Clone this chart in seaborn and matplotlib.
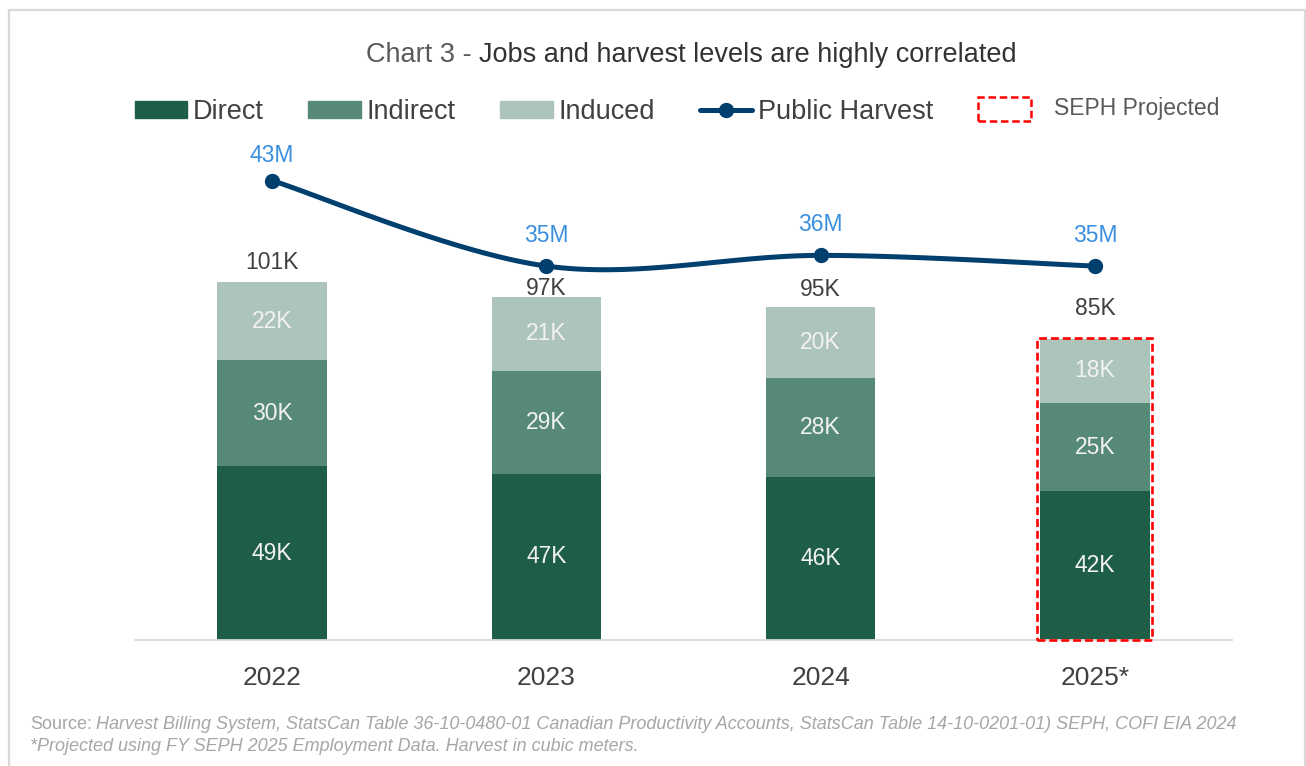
import numpy as np
import pandas as pd
import matplotlib
matplotlib.use("Agg")
import matplotlib.pyplot as plt
import matplotlib.patches as mpatches
from matplotlib.lines import Line2D
from matplotlib.legend_handler import HandlerPatch
import seaborn as sns

# ---- data -------------------------------------------------------------
years = ["2022", "2023", "2024", "2025*"]
direct = [49, 47, 46, 42]          # thousands of jobs
indirect = [30, 29, 28, 25]
induced = [22, 21, 20, 18]
total_jobs = [101, 97, 95, 85]     # reported totals
harvest = [43, 35, 36, 35]         # public harvest, million m3

# ---- styling ----------------------------------------------------------
sns.set_theme(style="white")
plt.rcParams["font.family"] = ["Liberation Sans", "DejaVu Sans"]

C_DIRECT = "#1e5e47"
C_INDIRECT = "#578a76"
C_INDUCED = "#adc4bb"
C_LINE = "#003f6e"
C_HARV_LBL = "#3a8fde"
C_TEXT = "#404040"
C_GRID = "#d9d9d9"

W, H, DPI = 1306, 766, 100
fig = plt.figure(figsize=(W / DPI, H / DPI), dpi=DPI)
fig.patch.set_facecolor("white")

# outer frame
fig.patches.append(mpatches.Rectangle((8.5 / W, -0.05), (1305 - 8.5) / W, 1.05 - 9.5 / H,
                                      transform=fig.transFigure, fill=False,
                                      ec=C_GRID, lw=1.6))

ax = fig.add_axes([135 / W, 126 / H, (1232 - 135) / W, 500 / H])
ax2 = ax.twinx()

df = pd.DataFrame({"year": years, "direct": direct, "indirect": indirect, "induced": induced})
df["mid"] = df["direct"] + df["indirect"]
df["top"] = df["mid"] + df["induced"]

BAR_W = 0.40
for col, color in [("top", C_INDUCED), ("mid", C_INDIRECT), ("direct", C_DIRECT)]:
    sns.barplot(data=df, x="year", y=col, color=color, saturation=1, width=BAR_W,
                errorbar=None, ax=ax, linewidth=0)

ax.set_xlim(-0.5, 3.5)
ax.set_ylim(0, 141.2)
ax.set_xlabel("")
ax.set_ylabel("")
ax.set_yticks([])
for s in ["left", "right", "top"]:
    ax.spines[s].set_visible(False)
ax.spines["bottom"].set_color(C_GRID)
ax.spines["bottom"].set_linewidth(1.3)
ax.tick_params(axis="x", length=0, pad=19, labelsize=19, labelcolor=C_TEXT)

# segment labels
for i in range(len(years)):
    for lo, val in [(0, direct[i]), (direct[i], indirect[i]), (direct[i] + indirect[i], induced[i])]:
        ax.text(i, lo + val / 2, f"{val}K", ha="center", va="center",
                color="#f2f2f2", fontsize=16.5)

# total labels above each stack
total_offsets = [14, 6, 13, 22]
for i, t in enumerate(total_jobs):
    ax.annotate(f"{t}K", (i, df["top"][i]), xytext=(0, total_offsets[i]),
                textcoords="offset points", ha="center", va="center",
                color=C_TEXT, fontsize=16.5)

# projected-year outline
pad = 0.01
proj = len(years) - 1
ax.add_patch(mpatches.Rectangle((proj - BAR_W / 2 - pad, 0), BAR_W + 2 * pad,
                                df["top"][proj] + 0.3, fill=False, ec="#ff0000",
                                lw=1.9, ls=(0, (3, 1.5)), zorder=5, clip_on=False))


# smoothed harvest line (cubic Bezier through the points)
def smooth(xs, ys, n=40):
    pts = np.column_stack([xs, ys]).astype(float)
    out = []
    for i in range(len(pts) - 1):
        p0 = pts[i - 1] if i > 0 else pts[i]
        p1, p2 = pts[i], pts[i + 1]
        p3 = pts[i + 2] if i + 2 < len(pts) else pts[i + 1]
        c1 = p1 + (p2 - p0) / 6
        c2 = p2 - (p3 - p1) / 6
        t = np.linspace(0, 1, n)[:, None]
        seg = (1 - t) ** 3 * p1 + 3 * (1 - t) ** 2 * t * c1 + 3 * (1 - t) * t ** 2 * c2 + t ** 3 * p2
        out.append(seg if i == 0 else seg[1:])
    return np.vstack(out)


xpos = np.arange(len(years))
curve = smooth(xpos, harvest)
curve_df = pd.DataFrame({"x": curve[:, 0], "y": curve[:, 1]})
sns.lineplot(data=curve_df, x="x", y="y", sort=False, estimator=None,
             color=C_LINE, lw=3.6, ax=ax2)
ax2.plot(xpos, harvest, ls="none", marker="o", ms=10, color=C_LINE)
harvest_offsets = [18, 22, 22, 22]
for i, v in enumerate(harvest):
    ax2.annotate(f"{v}M", (i, v), xytext=(0, harvest_offsets[i]), textcoords="offset points",
                 ha="center", va="center", color=C_HARV_LBL, fontsize=16.5)
ax2.set_ylim(0, 46.8)
ax2.set_xlim(-0.5, 3.5)
ax2.set_yticks([])
ax2.set_xlabel("")
ax2.set_ylabel("")
for s in ["left", "right", "top", "bottom"]:
    ax2.spines[s].set_visible(False)

# legend
handles = [
    mpatches.Patch(color=C_DIRECT, label="Direct"),
    mpatches.Patch(color=C_INDIRECT, label="Indirect"),
    mpatches.Patch(color=C_INDUCED, label="Induced"),
    Line2D([], [], color=C_LINE, lw=3.6, marker="o", ms=10, label="Public Harvest"),
    mpatches.Patch(facecolor="none", edgecolor="#ff0000", lw=1.8, ls=(0, (3, 1.5)),
                   label="SEPH Projected"),
]


def tall_box(legend, orig_handle, xdescent, ydescent, width, height, fontsize):
    return mpatches.Rectangle((-xdescent, -ydescent - height * 0.2), width, height * 1.45)


leg = fig.legend(handles=handles, loc="center", bbox_to_anchor=(668 / W, 1 - 112 / H),
                 ncol=5, frameon=False, fontsize=19.5, handlelength=1.95,
                 handleheight=0.6, handletextpad=0.2, columnspacing=1.65,
                 handler_map={handles[4]: HandlerPatch(patch_func=tall_box)})
for t in leg.get_texts():
    t.set_color(C_TEXT)
leg.get_texts()[4].set_fontsize(16.5)
leg.get_texts()[4].set_color("#595959")

fig.canvas.draw()
r = fig.canvas.get_renderer()

# push the last legend label away from its dashed box
seph_txt = leg.get_texts()[4]
bb = seph_txt.get_window_extent(r)
seph_txt.set_transform(matplotlib.transforms.IdentityTransform())
seph_txt.set_position((bb.x0 + 18, bb.y0 + bb.height / 2 + 4))
seph_txt.set_va("center")
seph_txt.set_ha("left")

# title in two tones
ty = 1 - 55 / H
t1 = fig.text(0, ty, "Chart 3 -", color="#595959", fontsize=19.5, va="center")
t2 = fig.text(0, ty, "Jobs and harvest levels are highly correlated", color="#333333",
              fontsize=19.5, va="center")
w1 = t1.get_window_extent(r).width
w2 = t2.get_window_extent(r).width
gap = 7
x0 = 691 - (w1 + gap + w2) / 2
t1.set_x(x0 / W)
t2.set_x((x0 + w1 + gap) / W)

# source notes
y_src1 = 1 - 729 / H
y_src2 = 1 - 751 / H
s1 = fig.text(30 / W, y_src1, "Source:", color="#a6a6a6", fontsize=13, va="baseline")
ws = s1.get_window_extent(r).width
fig.text((30 + ws + 4) / W, y_src1,
         "Harvest Billing System, StatsCan Table 36-10-0480-01 Canadian Productivity Accounts, "
         "StatsCan Table 14-10-0201-01) SEPH, COFI EIA 2024",
         color="#a6a6a6", fontsize=13, style="italic", va="baseline")
fig.text(30 / W, y_src2,
         "*Projected using FY SEPH 2025 Employment Data. Harvest in cubic meters.",
         color="#a6a6a6", fontsize=13, style="italic", va="baseline")

fig.savefig("out.png", dpi=DPI, facecolor="white")
